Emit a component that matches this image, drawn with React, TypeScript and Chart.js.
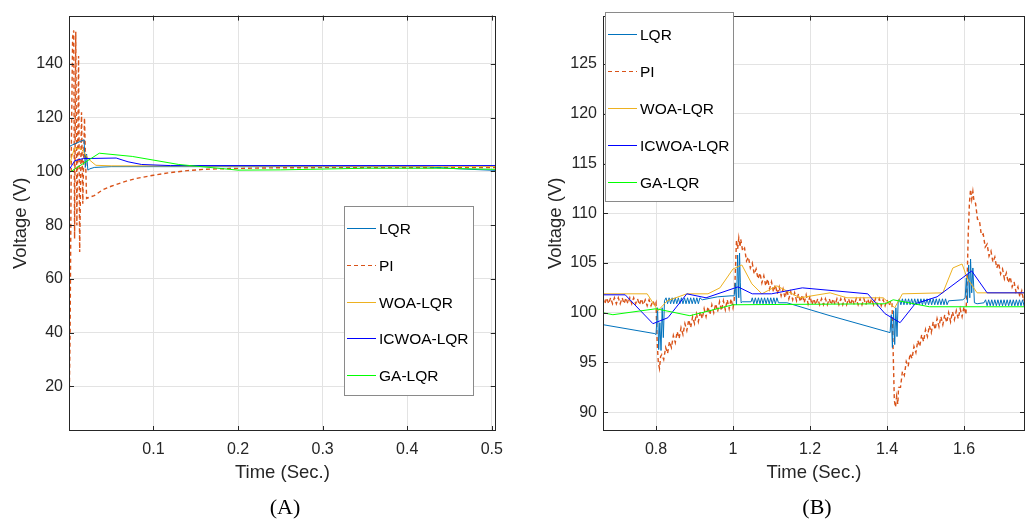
import React, { useEffect, useRef } from 'react';
import { Chart, registerables } from 'chart.js';
Chart.register(...registerables);

// ---------- series meta ----------
const SERIES_NAMES = ['LQR', 'PI', 'WOA-LQR', 'ICWOA-LQR', 'GA-LQR'];
const SERIES_COLORS = ['#0072BD', '#D95319', '#EDB120', '#0000FF', '#00FF00'];
const SERIES_DASH: number[][] = [[], [4, 3], [], [], []];
const SERIES_WIDTH = [1, 1.4, 1, 1, 1];
const DRAW_ORDER = [3, 4, 2, 1, 0];

// ---------- axes ----------
const A_X_TICKS = [0.1, 0.2, 0.3, 0.4, 0.5];
const A_Y_TICKS = [20, 40, 60, 80, 100, 120, 140];
const B_X_TICKS = [0.8, 1, 1.2, 1.4, 1.6];
const B_Y_TICKS = [90, 95, 100, 105, 110, 115, 120, 125];
const X_TITLE = 'Time (Sec.)';
const Y_TITLE = 'Voltage (V)';
const CAPTIONS = ['(A)', '(B)'];

// ---------- panel A data: [time, voltage] ----------
const LQR_A = [[0, 108.5], [0.0015, 109.5], [0.018, 111.8], [0.0195, 101.5], [0.021, 106.5], [0.0225, 100.5], [0.025, 101], [0.03, 101.5], [0.05, 101.8], [0.3, 101.8], [0.42, 101.8], [0.46, 101], [0.505, 100.4]];
const PI_A = [[0, 3.5], [0.0015, 40], [0.003, 110], [0.0045, 150], [0.0058, 152.5], [0.0068, 75], [0.0082, 152], [0.0095, 80], [0.0115, 143], [0.0128, 70], [0.015, 122], [0.0165, 88], [0.0185, 120], [0.021, 90], [0.025, 90.5], [0.03, 91], [0.04, 93.2], [0.05, 94.5], [0.06, 95.6], [0.07, 96.6], [0.08, 97.4], [0.1, 98.6], [0.12, 99.6], [0.14, 100.3], [0.16, 100.8], [0.19, 101.1], [0.25, 101.4], [0.505, 101.5]];
const WOA_A = [[0, 101.5], [0.004, 106], [0.007, 108.8], [0.015, 108.3], [0.024, 104.4], [0.032, 102.3], [0.05, 102.1], [0.505, 101.9]];
const ICWOA_A = [[0, 100.5], [0.007, 104], [0.017, 104.8], [0.056, 105], [0.07, 103.6], [0.086, 102.6], [0.12, 102.2], [0.505, 102.2]];
const GA_A = [[0, 99.5], [0.036, 106.8], [0.075, 105.6], [0.13, 102.6], [0.18, 101.1], [0.2, 100.5], [0.25, 100.6], [0.35, 101.2], [0.44, 101.2], [0.505, 100.8]];

// ---------- panel B data: [time, voltage] ----------
const LQR_B = [[0.662, 98.8], [0.797, 97.9], [0.8, 97.8], [0.804, 100.5], [0.807, 96.3], [0.81, 99.0], [0.813, 96.2], [0.816, 100.5], [0.819, 97.5], [0.822, 101.2],
  [0.826, 101.5], [0.83, 100.9], [0.834, 101.5], [0.838, 100.9], [0.842, 101.5], [0.846, 100.9], [0.85, 101.5], [0.854, 100.9], [0.858, 101.5], [0.862, 100.9], [0.866, 101.5], [0.87, 100.9], [0.874, 101.5], [0.878, 100.9], [0.882, 101.5], [0.886, 100.9], [0.89, 101.5], [0.894, 100.9], [0.898, 101.5], [0.902, 100.9], [0.906, 101.5], [0.91, 100.9], [0.914, 101.5],
  [0.92, 101.3], [0.96, 101.6], [0.995, 101.7], [1.003, 101.7], [1.006, 103.0], [1.009, 100.8], [1.012, 105.8], [1.015, 101.5], [1.017, 106.0], [1.019, 103.0], [1.021, 101.0], [1.024, 101.1], [1.047, 101.1],
  [1.05, 101.5], [1.054, 100.9], [1.058, 101.5], [1.062, 100.9], [1.066, 101.5], [1.07, 100.9], [1.074, 101.5], [1.078, 100.9], [1.082, 101.5], [1.086, 100.9], [1.09, 101.5], [1.094, 100.9], [1.098, 101.5], [1.102, 100.9], [1.106, 101.5], [1.11, 100.9], [1.114, 101.5],
  [1.118, 101.0], [1.14, 101.0], [1.252, 99.7], [1.408, 98.0], [1.411, 99.8], [1.414, 96.5], [1.417, 100.2], [1.42, 96.8], [1.423, 100.5], [1.426, 97.6], [1.429, 101.2],
  [1.432, 101.4], [1.436, 100.8], [1.44, 101.4], [1.444, 100.8], [1.448, 101.4], [1.452, 100.8], [1.456, 101.4], [1.46, 100.8], [1.464, 101.4], [1.468, 100.8], [1.472, 101.4], [1.476, 100.8], [1.48, 101.4], [1.484, 100.8], [1.488, 101.4], [1.492, 100.8], [1.496, 101.4], [1.5, 100.8], [1.504, 101.4], [1.508, 100.8], [1.512, 101.4], [1.516, 100.8], [1.52, 101.4], [1.524, 100.8], [1.528, 101.4], [1.532, 100.8], [1.536, 101.4], [1.54, 100.8], [1.544, 101.4], [1.548, 100.8], [1.552, 101.4], [1.556, 100.8],
  [1.56, 101.2], [1.597, 101.3], [1.603, 101.5], [1.606, 103.5], [1.609, 101.0], [1.612, 104.8], [1.615, 101.5], [1.617, 105.4], [1.62, 102.0], [1.623, 104.5], [1.627, 101.0], [1.634, 100.9], [1.652, 101.0],
  [1.656, 101.3], [1.66, 100.7], [1.664, 101.3], [1.668, 100.7], [1.672, 101.3], [1.676, 100.7], [1.68, 101.3], [1.684, 100.7], [1.688, 101.3], [1.692, 100.7], [1.696, 101.3], [1.7, 100.7], [1.704, 101.3], [1.708, 100.7], [1.712, 101.3], [1.716, 100.7], [1.72, 101.3], [1.724, 100.7], [1.728, 101.3], [1.732, 100.7], [1.736, 101.3], [1.74, 100.7], [1.744, 101.3], [1.748, 100.7], [1.752, 101.3], [1.756, 100.7], [1.76, 101.3]];
const PI_B = [[0.662, 101.5], [0.667, 100.9], [0.672, 101.5], [0.677, 100.9], [0.682, 101.5], [0.687, 100.9], [0.692, 101.5], [0.697, 100.9], [0.702, 101.5], [0.707, 100.9], [0.712, 101.5], [0.717, 100.9], [0.722, 101.5], [0.727, 100.9], [0.732, 101.5], [0.737, 100.9], [0.742, 101.5], [0.747, 100.9], [0.752, 101.4], [0.757, 100.8], [0.762, 101.4], [0.767, 100.8], [0.772, 101.3], [0.777, 100.7], [0.782, 101.3], [0.787, 100.7], [0.792, 101.2], [0.797, 100.7],
  [0.8, 101.0], [0.803, 97.0], [0.806, 95.0], [0.809, 94.4], [0.812, 95.6],
  [0.815, 95.8], [0.82, 95.3], [0.825, 96.5], [0.83, 95.9], [0.835, 97.1], [0.84, 96.5], [0.845, 97.7], [0.85, 97.0], [0.855, 98.1], [0.86, 97.4], [0.865, 98.5], [0.87, 97.8], [0.875, 98.9], [0.88, 98.2], [0.885, 99.3], [0.89, 98.5], [0.895, 99.6], [0.9, 98.9], [0.905, 99.9], [0.91, 99.1], [0.915, 100.1], [0.92, 99.4], [0.925, 100.4], [0.93, 99.6], [0.935, 100.6], [0.94, 99.8], [0.945, 100.8], [0.95, 100.0], [0.955, 100.9], [0.96, 100.1], [0.965, 101.1], [0.97, 100.2], [0.975, 101.2], [0.98, 100.3], [0.985, 101.3], [0.99, 100.4], [0.995, 101.4], [1.0, 100.5],
  [1.003, 101.2], [1.006, 104.0], [1.009, 107.3], [1.012, 106.4], [1.015, 107.5], [1.018, 106.6],
  [1.02, 107.4], [1.025, 106.2], [1.03, 106.5], [1.035, 105.2], [1.04, 105.6], [1.045, 104.5], [1.05, 105.0], [1.055, 103.9], [1.06, 104.4], [1.065, 103.4], [1.07, 104.0], [1.075, 103.0], [1.08, 103.7], [1.085, 102.7], [1.09, 103.4], [1.095, 102.4], [1.1, 103.1], [1.105, 102.1], [1.11, 102.8], [1.115, 101.9], [1.12, 102.6], [1.125, 101.7], [1.13, 102.4], [1.135, 101.5], [1.14, 102.3], [1.145, 101.4], [1.15, 102.1], [1.155, 101.3], [1.16, 102.0], [1.165, 101.2], [1.17, 101.9], [1.175, 101.1], [1.18, 101.8], [1.185, 101.0], [1.19, 101.8], [1.195, 100.9], [1.2, 101.7],
  [1.205, 100.8], [1.21, 101.4], [1.215, 100.8], [1.22, 101.4], [1.225, 100.8], [1.23, 101.4], [1.235, 100.8], [1.24, 101.4], [1.245, 100.8], [1.25, 101.4], [1.255, 100.8], [1.26, 101.4], [1.265, 100.8], [1.27, 101.4], [1.275, 100.8], [1.28, 101.4], [1.285, 100.8], [1.29, 101.4], [1.295, 100.8], [1.3, 101.4], [1.305, 100.8], [1.31, 101.4], [1.315, 100.8], [1.32, 101.4], [1.325, 100.8], [1.33, 101.4], [1.335, 100.8], [1.34, 101.4], [1.345, 100.8], [1.35, 101.4], [1.355, 100.8], [1.36, 101.4], [1.365, 100.8], [1.37, 101.4], [1.375, 100.8], [1.38, 101.4], [1.385, 100.7], [1.39, 101.3], [1.395, 100.7], [1.4, 101.3], [1.405, 100.7], [1.41, 101.2],
  [1.413, 100.9], [1.416, 96.0], [1.419, 91.2], [1.422, 90.5], [1.425, 91.6], [1.428, 90.8],
  [1.43, 92.5], [1.435, 92.5], [1.44, 94.1], [1.445, 93.7], [1.45, 95.1], [1.455, 94.6], [1.46, 95.9], [1.465, 95.4], [1.47, 96.6], [1.475, 96.0], [1.48, 97.2], [1.485, 96.6], [1.49, 97.8], [1.495, 97.1], [1.5, 98.3], [1.505, 97.6], [1.51, 98.7], [1.515, 98.0], [1.52, 99.1], [1.525, 98.3], [1.53, 99.4], [1.535, 98.6], [1.54, 99.6], [1.545, 98.8], [1.55, 99.8], [1.555, 99.0], [1.56, 100.0], [1.565, 99.1], [1.57, 100.1], [1.575, 99.3], [1.58, 100.2], [1.585, 99.4], [1.59, 100.4], [1.595, 99.6], [1.6, 100.6], [1.605, 99.8],
  [1.608, 103.0], [1.611, 108.0], [1.614, 111.0], [1.617, 112.4], [1.62, 111.4], [1.623, 112.2], [1.626, 111.2],
  [1.63, 111.0], [1.635, 109.4], [1.64, 109.3], [1.645, 107.8], [1.65, 107.9], [1.655, 106.6], [1.66, 106.9], [1.665, 105.7], [1.67, 106.2], [1.675, 105.1], [1.68, 105.6], [1.685, 104.5], [1.69, 105.0], [1.695, 103.9], [1.7, 104.4], [1.705, 103.4], [1.71, 104.0], [1.715, 103.0], [1.72, 103.6], [1.725, 102.6], [1.73, 103.1], [1.735, 102.1], [1.74, 102.6], [1.745, 101.6], [1.75, 102.2], [1.755, 101.2], [1.76, 101.8]];
const WOA_B = [[0.662, 101.9], [0.777, 101.9], [0.797, 100.7], [0.805, 100.2], [0.829, 101.2], [0.88, 101.9], [0.935, 101.9], [0.966, 102.5], [1.0, 104.4], [1.023, 104.8], [1.049, 102.9], [1.075, 101.9], [1.114, 102.7], [1.174, 101.5], [1.252, 102.0], [1.296, 101.5], [1.39, 101.5], [1.42, 100.5], [1.44, 101.9], [1.545, 102.0], [1.571, 104.5], [1.595, 104.9], [1.608, 103.5], [1.634, 102.0], [1.76, 102.0]];
const ICWOA_B = [[0.662, 101.8], [0.72, 101.8], [0.792, 98.9], [0.831, 99.5], [0.88, 101.9], [0.93, 101.5], [1.013, 102.6], [1.05, 101.9], [1.1, 101.9], [1.18, 102.5], [1.35, 101.9], [1.395, 99.9], [1.434, 99.0], [1.473, 100.9], [1.53, 101.6], [1.62, 104.2], [1.66, 102.0], [1.76, 102.0]];
const GA_B = [[0.662, 100.0], [0.688, 99.8], [0.8, 100.4], [0.888, 99.7], [1.0, 100.8], [1.395, 100.9], [1.416, 101.3], [1.51, 100.6], [1.76, 100.6]];

const SERIES_A = [LQR_A, PI_A, WOA_A, ICWOA_A, GA_A];
const SERIES_B = [LQR_B, PI_B, WOA_B, ICWOA_B, GA_B];

const SANS = '"Liberation Sans", Arial, Helvetica, sans-serif';
const SERIF = '"Liberation Serif", "Times New Roman", serif';
const INK = '#262626';

type Panel = {
  series: number[][][];
  xMin: number; xMax: number; yMin: number; yMax: number;
  xTicks: number[]; yTicks: number[];
  left: number; width: number; yAxisWidth: number; padRight: number;
  legend: { x: number; y: number; w: number; h: number; first: number; gap: number };
  caption: string; captionX: number;
};

const PANELS: Panel[] = [
  {
    series: SERIES_A, xMin: 0.0002, xMax: 0.5047, yMin: 3.44, yMax: 158,
    xTicks: A_X_TICKS, yTicks: A_Y_TICKS, left: 0, width: 512, yAxisWidth: 69, padRight: 9,
    legend: { x: 344, y: 206, w: 130, h: 190, first: 22, gap: 36.8 },
    caption: CAPTIONS[0], captionX: 285,
  },
  {
    series: SERIES_B, xMin: 0.6623, xMax: 1.7584, yMin: 88.11, yMax: 129.87,
    xTicks: B_X_TICKS, yTicks: B_Y_TICKS, left: 535, width: 490, yAxisWidth: 68, padRight: 0,
    legend: { x: 70, y: 12, w: 129, h: 190, first: 21.5, gap: 37.2 },
    caption: CAPTIONS[1], captionX: 282,
  },
];

const fmt = (v: number) => String(Math.round(v * 1000) / 1000);

function makeDecor(p: Panel) {
  return {
    id: 'decor',
    afterDatasetsDraw(chart: any) {
      const ctx = chart.ctx as CanvasRenderingContext2D;
      const a = chart.chartArea;
      const xs = chart.scales.x;
      const ys = chart.scales.y;
      ctx.save();
      ctx.strokeStyle = INK;
      ctx.lineWidth = 1;
      ctx.strokeRect(Math.round(a.left) + 0.5, Math.round(a.top) + 0.5, Math.round(a.right - a.left) - 1, Math.round(a.bottom - a.top) - 1);
      const tl = 5;
      ctx.beginPath();
      p.xTicks.forEach((v) => {
        const x = Math.round(xs.getPixelForValue(v)) + 0.5;
        ctx.moveTo(x, a.bottom); ctx.lineTo(x, a.bottom - tl);
        ctx.moveTo(x, a.top); ctx.lineTo(x, a.top + tl);
      });
      p.yTicks.forEach((v) => {
        const y = Math.round(ys.getPixelForValue(v)) + 0.5;
        ctx.moveTo(a.left, y); ctx.lineTo(a.left + tl, y);
        ctx.moveTo(a.right, y); ctx.lineTo(a.right - tl, y);
      });
      ctx.stroke();
      const L = p.legend;
      ctx.fillStyle = '#ffffff';
      ctx.fillRect(L.x, L.y, L.w, L.h);
      ctx.strokeStyle = '#8a8a8a';
      ctx.strokeRect(L.x + 0.5, L.y + 0.5, L.w - 1, L.h - 1);
      ctx.font = '15.5px ' + SANS;
      ctx.textBaseline = 'middle';
      ctx.textAlign = 'left';
      SERIES_NAMES.forEach((name, i) => {
        const y = Math.round(L.y + L.first + i * L.gap) + 0.5;
        ctx.strokeStyle = SERIES_COLORS[i];
        ctx.lineWidth = 1;
        ctx.setLineDash(SERIES_DASH[i]);
        ctx.beginPath();
        ctx.moveTo(L.x + 3, y); ctx.lineTo(L.x + 32, y);
        ctx.stroke();
        ctx.setLineDash([]);
        ctx.fillStyle = '#000';
        ctx.fillText(name, L.x + 35, y + 1);
      });
      ctx.font = '22px ' + SERIF;
      ctx.textAlign = 'center';
      ctx.fillStyle = '#000';
      ctx.fillText(p.caption, p.captionX, 508);
      ctx.restore();
    },
  };
}

function makeConfig(p: Panel): any {
  return {
    type: 'line',
    data: {
      datasets: p.series.map((pts, i) => ({
        label: SERIES_NAMES[i],
        data: pts.map(([x, y]) => ({ x, y })),
        borderColor: SERIES_COLORS[i],
        borderDash: SERIES_DASH[i],
        borderWidth: SERIES_WIDTH[i],
        pointRadius: 0,
        tension: 0,
        fill: false,
        order: DRAW_ORDER[i],
      })),
    },
    options: {
      animation: false,
      responsive: false,
      devicePixelRatio: 1,
      layout: { padding: { left: 0, right: p.padRight, top: 11, bottom: 0 } },
      plugins: { legend: { display: false }, tooltip: { enabled: false } },
      scales: {
        x: {
          type: 'linear', min: p.xMin, max: p.xMax,
          afterBuildTicks: (s: any) => { s.ticks = p.xTicks.map((v) => ({ value: v })); },
          afterFit: (s: any) => { s.height = 93; },
          grid: { color: '#e3e3e3', drawTicks: false },
          border: { display: false },
          ticks: { autoSkip: false, maxRotation: 0, padding: 9, color: INK, font: { family: SANS, size: 16 }, callback: (v: number) => fmt(v) },
          title: { display: true, text: X_TITLE, color: INK, font: { family: SANS, size: 18.5 }, padding: { top: 0, bottom: 40 } },
        },
        y: {
          type: 'linear', min: p.yMin, max: p.yMax,
          afterBuildTicks: (s: any) => { s.ticks = p.yTicks.map((v) => ({ value: v })); },
          afterFit: (s: any) => { s.width = p.yAxisWidth; },
          grid: { color: '#e3e3e3', drawTicks: false },
          border: { display: false },
          ticks: { autoSkip: false, padding: 6, color: INK, font: { family: SANS, size: 16 }, callback: (v: number) => fmt(v) },
          title: { display: true, text: Y_TITLE, color: INK, font: { family: SANS, size: 18.5 }, padding: { top: 10, bottom: 0 } },
        },
      },
    },
    plugins: [makeDecor(p)],
  };
}

function PanelChart({ p }: { p: Panel }) {
  const ref = useRef<HTMLCanvasElement | null>(null);
  useEffect(() => {
    if (!ref.current) return;
    const chart = new Chart(ref.current, makeConfig(p));
    return () => chart.destroy();
  }, [p]);
  return (
    <canvas
      ref={ref}
      width={p.width}
      height={524}
      style={{ position: 'absolute', left: p.left, top: 0, width: p.width, height: 524 }}
    />
  );
}

export default function App() {
  return (
    <div style={{ position: 'absolute', left: 0, top: 0, width: 1025, height: 524, background: '#fff' }}>
      {PANELS.map((p, i) => (
        <PanelChart key={i} p={p} />
      ))}
    </div>
  );
}
